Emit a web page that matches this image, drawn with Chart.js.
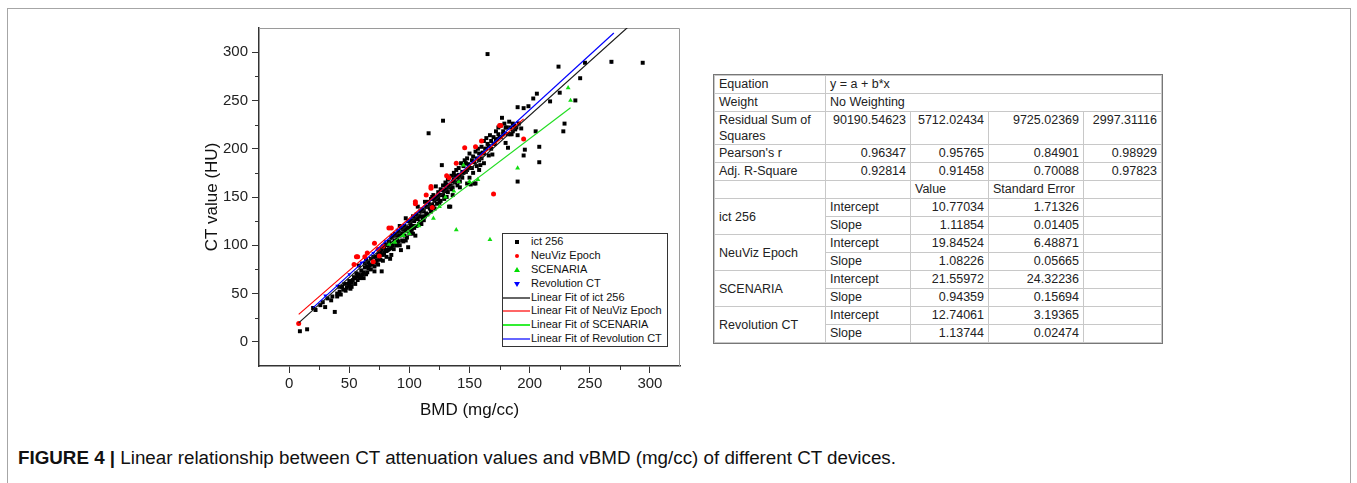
<!DOCTYPE html>
<html>
<head>
<meta charset="utf-8">
<title>Figure 4</title>
<script src="https://cdn.jsdelivr.net/npm/chart.js@4.4.1/dist/chart.umd.min.js"></script>
<style>
    body { margin: 0; background: #fff; font-family: "Liberation Sans", Arial, sans-serif; color: #111; }
    #frame { position: absolute; left: 7px; top: 8px; width: 1342px; height: 540px; border: 1px solid #a6a6a6; }
    #wrap { position: absolute; left: 190px; top: 15px; width: 500px; height: 410px; }
    #legend { position: absolute; left: 502px; top: 233px; width: 166px; height: 114px; border: 1px solid #333; background: #fff; font-size: 11px; box-sizing: border-box; padding-top: 1px; }
    #legend .row { position: relative; height: 13.9px; line-height: 13.9px; }
    #legend .row span.t { position: absolute; left: 28px; white-space: nowrap; }
    #legend .mk { position: absolute; }
    #legend .ln { position: absolute; left: 0; width: 27px; height: 2px; top: 6px; }
    #tblwrap { position: absolute; left: 713px; top: 74px; border: 1px solid #777; }
    table { border-collapse: collapse; font-size: 12.5px; color: #222; table-layout: fixed; }
    td { border: 1px solid #c8c8c8; padding: 0 4px; height: 17px; line-height: 16px; vertical-align: top; white-space: nowrap; overflow: hidden; }
    td.n { text-align: right; }
    td.mid { vertical-align: middle; }
    tr.tall td { height: 31px; white-space: normal; }
    #caption { position: absolute; left: 18px; top: 447px; font-family: "Liberation Sans", Arial, sans-serif; font-size: 18.8px; color: #111; white-space: nowrap; }
</style>
</head>
<body>
<div id="frame"></div>
<div id="wrap"><canvas id="fit-chart"></canvas></div>

<div id="legend">
    <div class="row"><span class="mk" style="left:12px;top:5px;width:4px;height:4px;background:#000"></span><span class="t">ict 256</span></div>
    <div class="row"><span class="mk" style="left:12px;top:5px;width:4px;height:4px;border-radius:50%;background:#f00"></span><span class="t">NeuViz Epoch</span></div>
    <div class="row"><span class="mk" style="left:11px;top:4px;width:0;height:0;border-left:3px solid transparent;border-right:3px solid transparent;border-bottom:5px solid #0d0"></span><span class="t">SCENARIA</span></div>
    <div class="row"><span class="mk" style="left:11px;top:5px;width:0;height:0;border-left:3px solid transparent;border-right:3px solid transparent;border-top:5px solid #00f"></span><span class="t">Revolution CT</span></div>
    <div class="row"><span class="ln" style="background:#666"></span><span class="t">Linear Fit of ict 256</span></div>
    <div class="row"><span class="ln" style="background:#f66"></span><span class="t">Linear Fit of NeuViz Epoch</span></div>
    <div class="row"><span class="ln" style="background:#3e3"></span><span class="t">Linear Fit of SCENARIA</span></div>
    <div class="row"><span class="ln" style="background:#66f"></span><span class="t">Linear Fit of Revolution CT</span></div>
</div>

<div id="tblwrap">
<table>
    <colgroup><col style="width:111px"><col style="width:85px"><col style="width:78px"><col style="width:95px"><col style="width:78px"></colgroup>
    <tr><td>Equation</td><td colspan="4">y = a + b*x</td></tr>
    <tr><td>Weight</td><td colspan="4">No Weighting</td></tr>
    <tr class="tall"><td>Residual Sum of Squares</td><td class="n">90190.54623</td><td class="n">5712.02434</td><td class="n">9725.02369</td><td class="n">2997.31116</td></tr>
    <tr><td>Pearson's r</td><td class="n">0.96347</td><td class="n">0.95765</td><td class="n">0.84901</td><td class="n">0.98929</td></tr>
    <tr><td>Adj. R-Square</td><td class="n">0.92814</td><td class="n">0.91458</td><td class="n">0.70088</td><td class="n">0.97823</td></tr>
    <tr><td></td><td></td><td>Value</td><td>Standard Error</td><td></td></tr>
    <tr><td rowspan="2" class="mid">ict 256</td><td>Intercept</td><td class="n">10.77034</td><td class="n">1.71326</td><td></td></tr>
    <tr><td>Slope</td><td class="n">1.11854</td><td class="n">0.01405</td><td></td></tr>
    <tr><td rowspan="2" class="mid">NeuViz Epoch</td><td>Intercept</td><td class="n">19.84524</td><td class="n">6.48871</td><td></td></tr>
    <tr><td>Slope</td><td class="n">1.08226</td><td class="n">0.05665</td><td></td></tr>
    <tr><td rowspan="2" class="mid">SCENARIA</td><td>Intercept</td><td class="n">21.55972</td><td class="n">24.32236</td><td></td></tr>
    <tr><td>Slope</td><td class="n">0.94359</td><td class="n">0.15694</td><td></td></tr>
    <tr><td rowspan="2" class="mid">Revolution CT</td><td>Intercept</td><td class="n">12.74061</td><td class="n">3.19365</td><td></td></tr>
    <tr><td>Slope</td><td class="n">1.13744</td><td class="n">0.02474</td><td></td></tr>
</table>
</div>

<div id="caption"><b>FIGURE 4 |</b> Linear relationship between CT attenuation values and vBMD (mg/cc) of different CT devices.</div>

<script>
// BMD (mg/cc) vs CT value (HU)
const ict256 = [
    [9,11],[15,13],[20,35],[22,33],[26,38],[28,41],[30,36],[32,45],[35,43],[36,47],[38,31],[40,50],
    [42,52],[42,57],[44,57],[45,54],[46,60],[48,56],[50,58],[50,63],[52,61],[52,57],[54,67],[55,66],
    [56,71],[57,64],[58,79],[58,70],[60,68],[60,74],[62,72],[63,77],[64,70],[64,85],[65,78],[66,82],
    [67,79],[68,86],[70,83],[71,73],[72,88],[72,82],[74,90],[75,86],[76,93],[77,73],[77,96],[78,90],
    [79,98],[80,95],[81,94],[82,100],[83,104],[84,86],[85,97],[85,108],[86,110],[87,103],[88,112],
    [89,100],[90,106],[91,114],[92,110],[93,95],[93,118],[94,112],[95,104],[96,120],[97,115],[97,128],
    [98,108],[99,98],[100,118],[100,125],[101,122],[102,116],[103,130],[104,125],[105,110],[106,132],
    [107,127],[107,140],[108,122],[109,135],[110,130],[111,137],[112,126],[113,145],[114,140],[115,132],
    [116,145],[117,138],[118,148],[119,142],[120,152],[121,146],[122,161],[123,150],[124,155],[125,144],
    [126,158],[127,152],[127,183],[128,162],[129,148],[130,165],[131,158],[132,168],[133,140],[134,162],
    [135,172],[136,166],[137,175],[138,165],[139,178],[140,170],[141,180],[142,172],[143,185],[144,176],
    [145,182],[146,188],[147,176],[148,190],[149,184],[150,195],[151,163],[152,180],[153,192],[154,186],
    [155,164],[155,197],[156,190],[157,200],[158,195],[159,183],[160,202],[161,196],[162,208],[163,200],
    [164,211],[165,205],[166,193],[167,214],[168,208],[169,194],[170,212],[171,205],[172,218],[173,210],
    [174,222],[175,212],[176,224],[177,232],[178,218],[179,226],[180,206],[181,222],[182,201],[183,228],
    [184,222],[185,215],[186,226],[188,220],[190,214],[190,243],[191,226],[193,221],[195,242],[195,193],
    [196,199],[199,244],[203,252],[205,218],[206,257],[208,202],[208,186],[190,166],[217,249],[225,258],
    [228,218],[229,226],[238,250],[242,273],[224,285],[246,289],[268,290],[294,289],[165,298],[116,216],
    [128,229],[134,140],[154,164],
    [40,47],[43,49],[47,53],[49,60],[51,55],[53,64],[55,60],[57,68],[59,66],[61,70],[62,66],[63,81],
    [65,72],[66,76],[68,75],[69,80],[70,88],[71,78],[73,84],[74,80],[75,92],[76,85],[78,84],[79,92],
    [80,101],[81,88],[82,95],[83,96],[84,102],[86,100],[87,96],[88,105],[89,110],[90,100],[91,104],
    [92,120],[94,105],[95,116],[96,110],[98,118],[99,125],[100,112],[101,115],[102,126],[103,120],
    [104,118],[105,128],[106,120],[108,130],[109,124],[110,122],[111,128],[112,135],[113,130],[114,133],
    [115,140],[117,142],[118,135],[119,150],[120,140],[121,138],[122,148],[123,143],[124,148],[125,152],
    [126,146],[128,152],[129,156],[130,150],[131,163],[132,155],[133,160],[135,158],[136,160],[137,168],
    [138,172],[140,162],[141,173],[142,166],[144,170],[145,175],[147,185],[148,178],[150,180],[152,188],
    [153,175],[156,182],[158,188],[160,190],[162,195],[164,200],[166,203],[168,200],[170,205],[172,209],
    [174,215],[176,212],[178,215],[180,222],[182,215],[184,215],[186,218],[187,224],[189,222],
    [128,157],[131,150],[136,152],[142,160],[148,164],[150,170],[158,178],[162,185],[85,90],[92,100],
    [97,105],[103,112]
];
const neuvizEpoch = [
    [8,19],[54,80],[56,88],[57,88],[63,88],[65,92],[70,83],[71,102],[74,96],[75,89],[78,99],[83,118],
    [85,118],[105,143],[105,145],[114,152],[118,161],[118,159],[119,139],[131,172],[133,170],[139,185],
    [146,201],[155,202],[160,208],[170,153],[175,224],[176,224],[195,210]
];
const scenaria = [
    [83,101],[88,103],[95,110],[100,112],[108,120],[120,128],[125,140],[130,150],[137,156],[139,116],
    [141,166],[145,183],[150,166],[157,168],[167,106],[190,180],[232,263],[234,250]
];
const revolutionCT = [
    [20,36],[30,48],[40,58],[50,70],[60,82],[70,92],[80,104],[90,116],[100,126],[110,138],[120,150],
    [130,160],[140,172],[150,183],[160,195],[170,206],[180,216],[190,227],[268,290]
];

// fit line end points (y = a + b*x from the table)
const fitIct256 = [[8,19.7],[293,338.5]];
const fitNeuviz = [[8,28.5],[195,230.9]];
const fitScenaria = [[83,99.9],[234,242.4]];
const fitRevolution = [[20,35.5],[270,319.8]];

const xTicks = [0, 50, 100, 150, 200, 250, 300];
const yTicks = [0, 50, 100, 150, 200, 250, 300];
const minorTicks = [25, 75, 125, 175, 225, 275];

const toPts = arr => arr.map(p => ({ x: p[0], y: p[1] }));

function pointSet(data, color, style, radius, order, rotation) {
    return {
        data: toPts(data), showLine: false, order: order,
        pointStyle: style, pointRadius: radius, pointRotation: rotation || 0,
        pointBackgroundColor: color, pointBorderColor: color, pointBorderWidth: 0
    };
}

function lineSet(data, color) {
    return {
        data: toPts(data), showLine: true, order: 0, pointRadius: 0,
        borderColor: color, borderWidth: 1.2, fill: false
    };
}

const frameAndMinor = {
    id: 'frameAndMinor',
    beforeDatasetsDraw(chart) {
        const a = chart.chartArea, ctx = chart.ctx;
        ctx.save();
        ctx.strokeStyle = '#9a9a9a';
        ctx.lineWidth = 1;
        ctx.beginPath();
        ctx.moveTo(a.left, a.top + 0.5);
        ctx.lineTo(a.right - 0.5, a.top + 0.5);
        ctx.lineTo(a.right - 0.5, a.bottom);
        ctx.stroke();
        ctx.restore();
    },
    afterDraw(chart) {
        const ctx = chart.ctx, xs = chart.scales.x, ys = chart.scales.y;
        ctx.save();
        ctx.strokeStyle = '#333';
        ctx.lineWidth = 1;
        ctx.beginPath();
        minorTicks.forEach(v => {
            const px = Math.round(xs.getPixelForValue(v)) + 0.5;
            ctx.moveTo(px, xs.top);
            ctx.lineTo(px, xs.top + 4);
            const py = Math.round(ys.getPixelForValue(v)) + 0.5;
            ctx.moveTo(ys.right, py);
            ctx.lineTo(ys.right - 4, py);
        });
        ctx.stroke();
        ctx.restore();
    }
};

const tickFont = { family: '"Liberation Sans", Arial, sans-serif', size: 15 };
const titleFont = { family: '"Liberation Sans", Arial, sans-serif', size: 17 };

new Chart(document.getElementById('fit-chart'), {
    type: 'scatter',
    data: {
        datasets: [
            lineSet(fitIct256, '#1a1a1a'),
            lineSet(fitNeuviz, '#ff0000'),
            lineSet(fitScenaria, '#22dd22'),
            lineSet(fitRevolution, '#0000ff'),
            pointSet(neuvizEpoch, '#ff0000', 'circle', 2.5, 1),
            pointSet(scenaria, '#11dd11', 'triangle', 2.8, 1),
            pointSet(ict256, '#000000', 'rect', 2.8, 2),
            pointSet(revolutionCT, '#0000ff', 'triangle', 2.2, 3, 180)
        ]
    },
    options: {
        responsive: true,
        maintainAspectRatio: false,
        animation: false,
        layout: { padding: { top: 10, right: 10, bottom: 0, left: 0 } },
        plugins: { legend: { display: false }, tooltip: { enabled: false } },
        scales: {
            x: {
                type: 'linear', min: -25, max: 325,
                afterBuildTicks: s => { s.ticks = xTicks.map(v => ({ value: v })); },
                afterFit: s => { s.height = 59; },
                grid: { drawOnChartArea: false, tickLength: 7, tickColor: '#333' },
                border: { display: true, color: '#333', width: 1.5 },
                ticks: { font: tickFont, color: '#222', padding: 2, maxRotation: 0 },
                title: { display: true, text: 'BMD (mg/cc)', font: titleFont, color: '#111', padding: { top: 0, bottom: 4 } }
            },
            y: {
                type: 'linear', min: -25, max: 325,
                afterBuildTicks: s => { s.ticks = yTicks.map(v => ({ value: v })); },
                afterFit: s => { s.width = 69; },
                grid: { drawOnChartArea: false, tickLength: 7, tickColor: '#333' },
                border: { display: true, color: '#333', width: 1.5 },
                ticks: { font: tickFont, color: '#222', padding: 4 },
                title: { display: true, text: 'CT value (HU)', font: titleFont, color: '#111', padding: { top: 12, bottom: 0 } }
            }
        }
    },
    plugins: [frameAndMinor]
});
</script>
</body>
</html>
